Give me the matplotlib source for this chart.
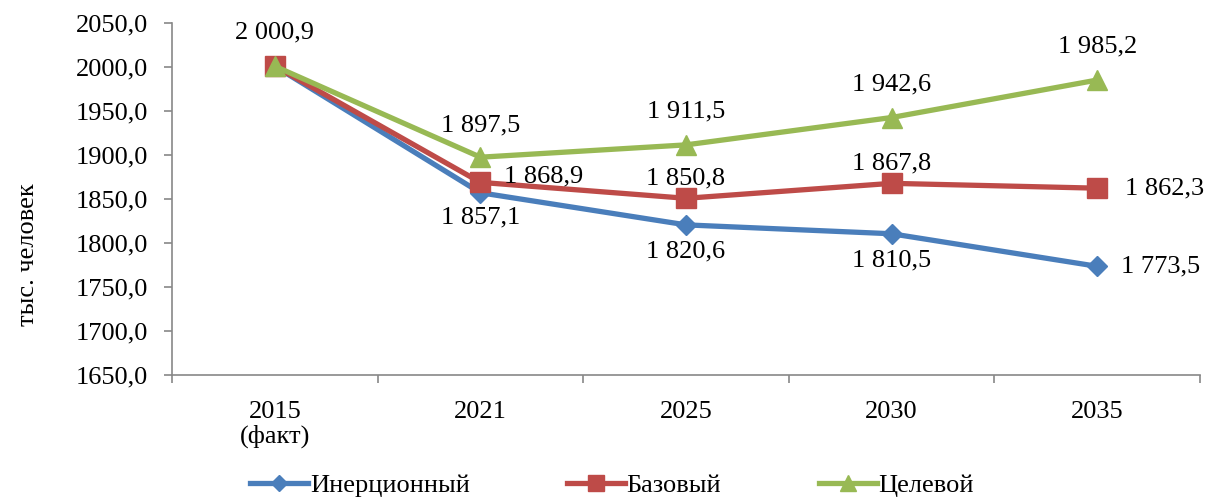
import matplotlib.pyplot as plt
from matplotlib.ticker import FuncFormatter

plt.rcParams['font.family'] = ['Liberation Serif', 'DejaVu Serif']

# data
years = ["2015\n(факт)", "2021", "2025", "2030", "2035"]
inert = [2000.9, 1857.1, 1820.6, 1810.5, 1773.5]
base = [2000.9, 1868.9, 1850.8, 1867.8, 1862.3]
target = [2000.9, 1897.5, 1911.5, 1942.6, 1985.2]
names = ["Инерционный", "Базовый", "Целевой"]

# label placement per point: (dx, dy) in points, ha
inert_pos = [None, (0, -18, "center"), (0, -19, "center"), (0, -19, "center"), (17, 0, "left")]
base_pos = [None, (17, 4, "left"), (0, 14, "center"), (0, 14, "center"), (20, 0, "left")]
target_pos = [(0, 24, "center"), (0, 23, "center"), (0, 24, "center"), (0, 24, "center"), (0, 24, "center")]

def fmt(v):
    s = f"{v:,.1f}".replace(",", " ").replace(".", ",")
    return s

fig = plt.figure(figsize=(12.05, 4.98), dpi=100)
ax = fig.add_axes([172 / 1205, 1 - 375 / 498, 1028 / 1205, 352 / 498])

x = list(range(len(years)))
l1, = ax.plot(x, inert, color="#4A7EBB", lw=3.8, marker="D", ms=10, zorder=3)
l2, = ax.plot(x, base, color="#BE4B48", lw=3.8, marker="s", ms=14, zorder=4)
l3, = ax.plot(x, target, color="#98B954", lw=3.8, marker="^", ms=14, zorder=5)

fs = 19
for vals, pos in [(inert, inert_pos), (base, base_pos), (target, target_pos)]:
    for i, v in enumerate(vals):
        if pos[i] is None:
            continue
        dx, dy, ha = pos[i]
        ax.annotate(fmt(v), (i, v), xytext=(dx, dy), textcoords="offset points",
                    ha=ha, va="center", fontsize=fs, zorder=6)

ax.set_xlim(-0.5, 4.5)
ax.set_ylim(1650, 2050)
ax.set_yticks(range(1650, 2051, 50))
ax.yaxis.set_major_formatter(FuncFormatter(lambda v, p: f"{v:.1f}".replace(".", ",")))
ax.set_xticks(x)
ax.set_xticklabels(years, linespacing=1.05)
ax.set_xticks([i + 0.5 for i in range(-1, 5)], minor=True)
ax.tick_params(axis="x", which="major", length=0, pad=19, labelsize=fs)
ax.tick_params(axis="x", which="minor", length=6, color="#888888", width=1.2)
ax.tick_params(axis="y", length=6, color="#888888", width=1.2, labelsize=fs, pad=11)

for side in ["top", "right"]:
    ax.spines[side].set_visible(False)
for side in ["left", "bottom"]:
    ax.spines[side].set_color("#888888")
    ax.spines[side].set_linewidth(1.2)

fig.text(28 / 1205, 1 - 255 / 498, "тыс. человек", rotation=90, ha="center", va="center", fontsize=19)

fig.legend([l1, l2, l3], names, loc="center", bbox_to_anchor=(0.508, 1 - 485 / 498),
           ncol=3, frameon=False, fontsize=fs, handlelength=2.2, handletextpad=0.05,
           columnspacing=3.7, markerscale=0.85, borderpad=0)

fig.savefig("out.png", dpi=100)
